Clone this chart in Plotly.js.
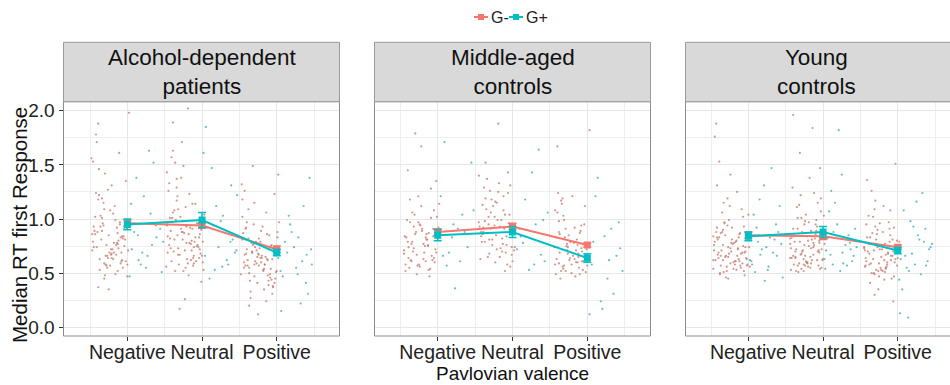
<!DOCTYPE html>
<html>
<head>
<meta charset="utf-8">
<script src="https://cdn.plot.ly/plotly-3.0.1.min.js"></script>
<style>html,body{margin:0;padding:0;background:#fff;}#chart{width:950px;height:385px;}</style>
</head>
<body>
<div id="chart"></div>
<script>
// ---------- DATA ----------
const panels = ["Alcohol-dependent<br>patients", "Middle-aged<br>controls", "Young<br>controls"];
const categories = ["Negative", "Neutral", "Positive"];
const catPos = [1, 2, 3];
const groups = ["G-", "G+"];
const yTickVals = [0, 0.5, 1, 1.5, 2];
const yTickText = ["0.0", "0.5", "1.0", "1.5", "2.0"];

// Group means and standard errors per panel (Negative, Neutral, Positive)
const adGmMean = [0.96, 0.94, 0.72], adGmSE = [0.03, 0.02, 0.03];
const adGpMean = [0.95, 0.99, 0.69], adGpSE = [0.05, 0.07, 0.03];
const maGmMean = [0.88, 0.93, 0.76], maGmSE = [0.03, 0.03, 0.02];
const maGpMean = [0.85, 0.88, 0.64], maGpSE = [0.05, 0.05, 0.04];
const yoGmMean = [0.85, 0.84, 0.74], yoGmSE = [0.03, 0.03, 0.02];
const yoGpMean = [0.84, 0.88, 0.71], yoGpSE = [0.04, 0.05, 0.03];

// Individual (jittered) observations, panel 1: Alcohol-dependent patients
const adNegGmX = [0.55,0.83,0.71,0.96,0.62,0.78,0.91,0.58,0.87,0.67,1.01,0.74,0.60,0.93,0.81,0.69,0.54,0.98,0.76,0.64,0.89,0.72,0.57,0.85,0.95,0.66,0.79,1.03,0.61,0.88,0.70,0.53,0.92,0.77,0.84,0.65,0.99,0.59,0.73,0.86,0.68,0.94,0.56,0.80,1.02,0.63,0.90,0.75,0.58,0.97,0.82,0.69,0.54,0.87,0.72,1.00,0.66,0.79,0.61,0.93,
  0.57,0.74,0.90,0.63,0.82,0.98,0.69,0.53,0.86,0.77,0.61,0.94,0.71,0.84,0.59,1.00,0.66,0.79,0.92,0.55,0.73,0.88,0.64,0.81,0.96,0.68,0.52,0.85,0.75,0.91,0.62,0.78,0.99,0.70,0.87];
const adNegGmY = [0.74,1.12,0.58,0.91,1.46,0.67,0.83,1.78,0.52,0.96,0.71,1.27,0.88,0.62,1.05,0.45,0.79,1.35,0.69,0.93,1.61,0.57,1.02,0.76,0.84,1.19,0.64,0.98,0.37,0.73,1.42,0.86,0.61,1.08,0.49,0.81,0.92,1.71,0.66,0.78,1.15,0.55,0.89,0.72,1.98,0.63,0.95,0.35,1.24,0.81,0.69,0.59,1.53,0.87,0.76,0.47,1.01,0.68,1.88,0.84,
  0.86,0.64,0.97,0.53,0.78,0.61,1.09,0.71,0.92,0.57,1.18,0.82,0.66,0.99,0.74,0.58,0.89,1.31,0.69,0.93,0.55,0.80,1.03,0.63,0.75,0.94,1.56,0.67,0.85,0.59,1.22,0.72,0.96,0.48,0.77];
const adNegGpX = [1.06,1.31,1.18,1.44,1.12,1.27,1.39,1.03,1.22,1.48,1.15,1.35,1.09,1.25,1.42,1.20,1.05,1.33,1.46,1.14,1.29,1.38];
const adNegGpY = [0.72,1.05,0.58,0.91,1.38,0.66,0.83,0.47,1.21,0.79,0.62,1.52,0.88,0.55,0.96,0.69,1.14,0.76,0.51,0.85,1.63,0.94];
const adNeuGmX = [1.57,1.92,1.66,1.79,2.02,1.53,1.85,1.71,1.98,1.61,1.76,1.89,1.55,1.68,1.95,1.82,1.63,1.74,2.00,1.59,1.87,1.70,1.93,1.56,1.80,1.65,1.97,1.73,1.52,1.90,1.78,1.62,1.84,1.99,1.67,1.54,1.88,1.75,1.60,1.94,1.81,1.69,2.03,1.58,1.86,1.72,1.64,1.96,1.77,1.53,1.91,1.68,1.83,1.61,2.01,1.74,1.57,1.89,1.66,1.79,
  1.54,1.72,1.88,1.61,1.79,1.96,1.67,1.83,1.58,1.93,1.75,1.63,1.87,1.70,1.99,1.56,1.81,1.66,1.91,1.77,1.60,1.85,1.73,2.01,1.64,1.89,1.53,1.78,1.95,1.68,1.82,1.59,1.74,1.97,1.86];
const adNeuGmY = [0.82,0.61,1.17,0.94,0.53,1.43,0.77,1.02,0.68,1.89,0.87,0.59,1.26,0.73,0.96,0.48,1.08,0.81,0.66,1.57,0.91,0.17,0.75,1.33,0.63,0.99,0.86,1.71,0.56,0.79,1.11,0.70,0.92,0.42,1.21,0.84,0.64,1.49,0.97,0.76,2.02,0.58,1.04,0.89,0.71,1.38,0.52,0.83,0.26,0.95,1.14,0.67,0.78,1.63,0.60,0.88,1.01,0.74,1.29,0.93,
  0.69,0.91,0.57,1.06,0.78,0.64,0.85,1.23,0.73,0.96,0.52,0.81,1.14,0.67,0.90,0.76,0.59,1.37,0.83,0.71,1.01,0.62,0.88,0.79,1.52,0.66,0.94,0.55,0.74,1.09,0.86,0.61,0.98,0.72,0.80];
const adNeuGpX = [2.04,2.28,2.41,2.13,2.35,2.07,2.22,2.47,2.17,2.31,2.02,2.44,2.25,2.10,2.38,2.19,2.33,2.05,2.46,2.15,2.27,2.39];
const adNeuGpY = [0.66,1.03,0.81,1.47,0.58,0.92,0.74,1.22,0.53,0.87,1.61,0.69,0.98,0.45,0.79,1.12,0.62,1.85,0.71,0.94,0.56,1.31];
const adPosGmX = [2.61,2.88,2.54,2.76,2.97,2.67,2.83,2.58,2.92,2.71,3.02,2.64,2.80,2.55,2.94,2.73,2.86,2.60,2.99,2.69,2.78,2.53,2.91,2.66,2.84,2.75,3.01,2.57,2.89,2.70,2.63,2.96,2.79,2.52,2.87,2.68,2.93,2.74,2.59,3.03,2.82,2.65,2.90,2.56,2.77,2.98,2.62,2.85,2.72,2.95,2.58,2.81,2.67,3.00,2.54,2.88,2.76,2.63,2.92,2.70,
  2.56,2.73,2.89,2.62,2.80,2.95,2.68,2.84,2.59,2.91,2.76,2.65,2.87,2.71,2.99,2.54,2.82,2.67,2.93,2.78,2.61,2.86,2.74,3.01,2.63,2.90,2.57,2.79,2.97,2.69,2.83,2.60,2.75,2.94,2.70];
const adPosGmY = [0.62,0.48,0.81,0.57,1.23,0.69,0.35,0.91,0.54,0.74,1.41,0.43,0.66,0.87,0.31,0.59,1.06,0.72,0.51,0.95,0.64,1.32,0.46,0.78,0.58,0.12,0.83,0.67,0.39,1.15,0.55,0.71,0.89,0.49,0.63,1.49,0.76,0.41,0.68,0.97,0.53,0.27,0.85,0.60,0.73,0.45,1.09,0.65,0.79,0.37,0.57,0.93,0.70,0.52,1.18,0.62,0.82,0.20,0.75,0.58,
  0.55,0.71,0.43,0.82,0.64,0.38,0.76,0.58,0.92,0.49,0.67,0.33,0.86,0.61,0.73,1.02,0.52,0.69,0.44,0.79,0.57,0.24,0.65,0.88,0.50,0.72,1.26,0.60,0.41,0.77,0.54,0.97,0.68,0.63,0.47];
const adPosGpX = [3.05,3.29,3.42,3.14,3.36,3.08,3.23,3.47,3.18,3.32,3.02,3.44,3.26,3.11,3.39,3.20,3.34,3.06,3.46,3.16,3.28,3.40];
const adPosGpY = [0.52,0.83,0.31,0.69,1.12,0.47,0.74,0.58,0.95,0.22,0.64,1.38,0.55,0.79,0.41,0.88,0.61,0.15,0.72,1.03,0.49,0.67];

// panel 2: Middle-aged controls
const maNegGmX = [0.58,0.84,0.69,0.97,0.62,0.77,0.91,0.55,0.88,0.72,1.02,0.65,0.81,0.94,0.60,0.75,0.86,0.67,0.99,0.57,0.79,0.92,0.70,0.83,0.63,0.96,0.74,0.56,0.89,0.68,1.01,0.78,0.61,0.85,0.73,0.95,0.66,0.82,0.59,0.90,0.71,0.98,0.64,0.87,0.76,
  0.61,0.79,0.93,0.66,0.85,0.57,0.74,0.98,0.70,0.88,0.63,0.81,0.95,0.68,0.55,0.84,0.76,0.91,0.60,0.72,0.99,0.65,0.87,0.78,0.94];
const maNegGmY = [0.83,0.61,1.04,0.72,0.55,0.94,1.28,0.68,0.87,0.49,1.14,0.77,0.63,0.91,1.45,0.58,0.81,0.70,1.02,0.52,0.89,0.66,1.79,0.75,0.97,0.60,1.21,0.84,0.47,0.73,0.92,1.67,0.64,0.86,0.57,1.08,0.79,0.69,0.99,0.54,0.88,1.35,0.62,0.76,0.95,
  0.74,0.91,0.62,1.06,0.81,0.58,0.97,0.69,0.86,0.53,1.18,0.77,0.64,0.93,0.71,0.83,0.56,1.01,0.79,0.67,0.89,0.61,0.75,1.12,0.84];
const maNegGpX = [1.07,1.33,1.19,1.45,1.12,1.27,1.40,1.04,1.23,1.36,1.15,1.48,1.30,1.09,1.21];
const maNegGpY = [0.66,1.04,0.83,1.52,0.57,0.91,0.74,1.21,0.36,0.88,0.69,1.08,0.61,1.71,0.95];
const maNeuGmX = [1.61,1.88,1.73,1.96,1.57,1.82,1.67,2.02,1.79,1.63,1.93,1.70,1.86,1.55,1.99,1.76,1.65,1.90,1.81,1.59,1.95,1.72,1.84,1.68,2.00,1.62,1.78,1.91,1.74,1.56,1.87,1.66,1.97,1.80,1.69,1.94,1.58,1.83,1.71,2.03,1.64,1.89,1.77,1.60,1.92,
  1.58,1.76,1.92,1.64,1.83,1.69,1.97,1.61,1.79,1.88,1.55,1.73,1.94,1.67,1.85,1.60,1.81,1.99,1.71,1.90,1.63,1.77,1.86,1.68,2.01];
const maNeuGmY = [0.92,1.21,0.76,1.04,0.63,1.33,0.87,0.71,1.15,0.98,0.58,1.26,0.82,1.40,0.67,0.94,1.09,0.52,1.88,0.79,0.96,1.18,0.73,1.02,0.61,1.29,0.85,0.69,1.12,0.93,0.77,1.37,0.56,0.99,0.81,1.24,0.88,0.65,1.06,0.74,1.52,0.91,0.60,1.13,0.84,
  0.84,1.02,0.76,1.19,0.93,0.68,1.31,0.88,0.72,1.08,0.97,0.81,1.43,0.65,0.99,0.86,1.25,0.74,0.91,1.04,0.79,1.16,0.70,0.95,0.89];
const maNeuGpX = [2.06,2.31,2.17,2.43,2.11,2.26,2.38,2.03,2.22,2.47,2.14,2.35,2.09,2.29,2.41];
const maNeuGpY = [0.72,0.95,1.18,0.61,0.84,1.43,0.67,0.89,0.53,1.06,0.78,1.64,0.91,0.58,0.99];
const maPosGmX = [2.59,2.86,2.71,2.97,2.63,2.79,2.92,2.56,2.84,2.68,3.01,2.75,2.61,2.89,2.73,2.95,2.65,2.82,2.58,2.91,2.77,3.03,2.69,2.87,2.62,2.94,2.74,2.57,2.85,2.70,2.99,2.80,2.64,2.90,2.76,2.60,2.93,2.67,2.83,2.72,2.98,2.66,2.88,2.78,2.62,
  2.57,2.74,2.90,2.63,2.81,2.96,2.68,2.85,2.60,2.93,2.77,2.65,2.88,2.71,3.00,2.58,2.83,2.67,2.92,2.79,2.62,2.87,2.73,2.98,2.69];
const maPosGmY = [0.63,0.81,0.52,1.12,0.69,0.58,0.94,0.74,0.47,1.03,0.66,0.85,1.24,0.55,0.71,0.61,1.17,0.78,0.49,0.89,0.64,1.82,0.57,0.76,0.98,0.53,0.68,1.08,0.60,0.83,0.72,1.21,0.45,0.87,0.62,1.67,0.70,0.56,0.92,0.75,0.51,1.14,0.65,0.79,0.59,
  0.58,0.74,0.49,0.86,0.66,0.95,0.54,0.71,1.06,0.61,0.79,0.52,0.68,0.91,0.57,0.83,0.63,1.19,0.73,0.50,0.88,0.60,0.77,0.67,0.99];
const maPosGpX = [3.06,3.32,3.18,3.44,3.11,3.27,3.39,3.03,3.23,3.47,3.14,3.35,3.08,3.29,3.42,3.20];
const maPosGpY = [0.58,0.91,0.24,0.73,1.21,0.45,0.66,0.12,0.84,0.52,1.38,0.31,0.79,0.62,0.97,0.17];

// panel 3: Young controls
const yoNegGmX = [0.56,0.81,0.67,0.94,0.60,0.75,0.89,0.53,0.86,0.70,1.00,0.63,0.78,0.92,0.58,0.73,0.84,0.65,0.97,0.55,0.77,0.90,0.68,0.82,0.61,0.95,0.72,0.54,0.87,0.66,0.99,0.76,0.59,0.83,0.71,0.93,0.64,0.80,0.57,0.88,0.69,0.96,0.62,0.85,0.74,1.02,0.58,0.79,0.66,0.91,0.53,0.84,0.70,0.98,0.61,0.76,0.88,0.63,0.73,0.95,
  0.54,0.71,0.87,0.60,0.78,0.94,0.66,0.83,0.57,0.90,0.74,0.63,0.86,0.69,0.98,0.55,0.80,0.65,0.92,0.76,0.59,0.85,0.72,1.01,0.62,0.89,0.53,0.77,0.96,0.67,0.82,0.58,0.73,0.93,0.68];
const yoNegGmY = [0.62,0.78,0.51,0.93,0.69,1.12,0.57,0.84,0.72,0.46,1.04,0.66,0.81,0.59,1.31,0.74,0.53,0.88,0.64,1.76,0.70,0.55,0.97,0.61,0.83,0.48,1.19,0.76,0.63,0.90,0.58,1.41,0.67,0.79,0.52,1.02,0.71,0.60,1.88,0.86,0.65,0.74,0.49,1.25,0.68,0.56,0.92,0.77,0.62,1.09,0.54,0.80,0.66,0.57,1.53,0.73,0.61,0.87,0.45,0.69,
  0.71,0.56,0.83,0.64,0.92,0.52,0.76,0.61,0.88,0.68,0.99,0.57,0.73,0.85,0.63,0.79,0.54,1.06,0.69,0.59,0.81,0.66,0.94,0.74,0.50,0.87,0.62,0.78,0.70,1.15,0.58,0.83,0.65,0.75,0.96];
const yoNegGpX = [1.05,1.29,1.16,1.42,1.09,1.24,1.37,1.02,1.21,1.46,1.13,1.33,1.07,1.27,1.40,1.18,1.31,1.04,1.44,1.11,1.26,1.38,1.15,1.35,1.22];
const yoNegGpY = [0.58,0.83,0.67,1.12,0.51,0.74,0.95,0.62,1.31,0.46,0.79,0.69,1.04,0.56,0.88,0.72,1.47,0.61,0.77,0.92,0.53,0.66,1.18,0.81,0.43];
const yoNeuGmX = [1.60,1.85,1.71,1.97,1.64,1.79,1.92,1.56,1.88,1.74,2.02,1.67,1.82,1.95,1.61,1.76,1.87,1.69,1.99,1.58,1.80,1.93,1.72,1.84,1.63,1.96,1.75,1.57,1.90,1.70,2.01,1.78,1.62,1.86,1.73,1.94,1.66,1.83,1.59,1.89,1.71,1.98,1.65,1.81,1.77,2.03,1.60,1.84,1.68,1.91,1.56,1.87,1.74,1.97,1.63,1.79,1.92,1.66,1.76,1.95,
  1.57,1.74,1.90,1.63,1.81,1.96,1.69,1.85,1.60,1.93,1.77,1.66,1.88,1.72,2.00,1.56,1.83,1.68,1.94,1.79,1.62,1.87,1.75,2.02,1.64,1.91,1.58,1.80,1.98,1.70,1.84,1.61,1.76,1.95,1.71];
const yoNeuGmY = [0.66,0.81,0.54,1.07,0.72,0.59,0.93,0.77,1.24,0.63,0.86,0.51,1.38,0.69,0.58,0.98,0.74,1.61,0.62,0.83,0.56,1.15,0.70,0.89,0.64,1.47,0.76,0.53,0.95,0.67,1.03,0.60,0.79,1.84,0.71,0.57,0.91,0.65,1.29,0.82,0.68,0.55,1.11,0.75,0.61,0.87,1.96,0.73,0.59,0.99,0.64,0.78,0.52,1.19,0.70,0.84,0.62,1.01,0.57,0.80,
  0.73,0.58,0.86,0.65,0.97,0.54,0.79,0.62,0.91,0.70,1.04,0.57,0.76,0.88,0.63,0.82,0.55,1.13,0.71,0.60,0.84,0.67,0.95,0.77,0.52,0.89,0.64,0.80,0.72,1.22,0.59,0.85,0.66,0.78,1.01];
const yoNeuGpX = [2.04,2.27,2.14,2.41,2.08,2.23,2.36,2.02,2.19,2.45,2.11,2.32,2.06,2.26,2.39,2.16,2.30,2.03,2.43,2.10,2.25,2.37,2.13,2.34,2.21];
const yoNeuGpY = [0.71,0.59,0.88,0.66,1.07,0.52,0.78,0.63,0.95,0.74,1.26,0.57,0.82,0.69,0.61,1.15,0.76,0.54,0.91,0.67,1.41,0.72,0.58,0.85,1.82];
const yoPosGmX = [2.58,2.83,2.69,2.95,2.62,2.77,2.90,2.55,2.86,2.72,3.00,2.65,2.80,2.93,2.60,2.75,2.88,2.67,2.97,2.57,2.79,2.91,2.70,2.84,2.63,2.96,2.74,2.56,2.89,2.68,3.02,2.78,2.61,2.85,2.73,2.94,2.66,2.82,2.59,2.87,2.71,2.99,2.64,2.81,2.76,2.92,2.58,2.84,2.69,2.98,
  2.57,2.74,2.89,2.62,2.80,2.95,2.68,2.84,2.59,2.91,2.76,2.65,2.87,2.71,2.99,2.55,2.82,2.67,2.93,2.78,2.61,2.86,2.73,3.01,2.63,2.90,2.56,2.79,2.97,2.69,2.83,2.60,2.75,2.94,2.70];
const yoPosGmY = [0.61,0.77,0.49,0.92,0.68,0.55,1.08,0.73,0.58,0.86,0.64,1.26,0.52,0.81,0.70,0.47,0.97,0.63,1.51,0.57,0.75,0.66,1.17,0.54,0.83,0.60,0.35,0.71,0.91,0.50,0.79,0.65,1.03,0.56,0.74,0.24,0.87,0.62,1.36,0.69,0.53,0.80,0.59,1.12,0.72,0.45,0.95,0.67,0.30,0.76,
  0.64,0.52,0.79,0.58,0.88,0.47,0.71,0.55,0.83,0.62,0.96,0.50,0.68,0.81,0.57,0.74,0.44,1.02,0.66,0.53,0.77,0.60,0.90,0.69,0.41,0.85,0.56,0.72,0.63,1.09,0.51,0.78,0.59,0.70,0.93];
const yoPosGpX = [3.04,3.29,3.15,3.42,3.08,3.23,3.37,3.02,3.19,3.46,3.12,3.33,3.06,3.27,3.40,3.17,3.31,3.03,3.44,3.10,3.25,3.38,3.14,3.35,3.21];
const yoPosGpY = [0.63,0.81,0.52,0.72,1.08,0.58,0.91,0.44,0.68,0.77,0.55,1.24,0.35,0.85,0.61,0.98,0.49,0.13,0.74,0.66,1.16,0.57,0.09,0.79,0.93];

// ---------- BUILD ----------
const colGm = "#F8766D", colGp = "#00BFC4";
const dotGm = "rgba(192,116,104,0.75)", dotGp = "rgba(46,170,174,0.75)";
const FONT = "Liberation Sans, Arial, sans-serif";

const panelData = [
  {gmX:[adNegGmX,adNeuGmX,adPosGmX], gmY:[adNegGmY,adNeuGmY,adPosGmY], gpX:[adNegGpX,adNeuGpX,adPosGpX], gpY:[adNegGpY,adNeuGpY,adPosGpY], gmM:adGmMean, gmS:adGmSE, gpM:adGpMean, gpS:adGpSE},
  {gmX:[maNegGmX,maNeuGmX,maPosGmX], gmY:[maNegGmY,maNeuGmY,maPosGmY], gpX:[maNegGpX,maNeuGpX,maPosGpX], gpY:[maNegGpY,maNeuGpY,maPosGpY], gmM:maGmMean, gmS:maGmSE, gpM:maGpMean, gpS:maGpSE},
  {gmX:[yoNegGmX,yoNeuGmX,yoPosGmX], gmY:[yoNegGmY,yoNeuGmY,yoPosGmY], gpX:[yoNegGpX,yoNeuGpX,yoPosGpX], gpY:[yoNegGpY,yoNeuGpY,yoPosGpY], gmM:yoGmMean, gmS:yoGmSE, gpM:yoGpMean, gpS:yoGpSE}
];

const W = 950, H = 385;
const pxX = [[63.5, 339.5], [374.5, 650.5], [685.5, 950]];
const plotTop = 101.7, plotBot = 336, stripTop = 42.3;
const yDom = [(H - plotBot) / H, (H - plotTop) / H];
const xRanges = [[0.145, 3.84], [0.155, 3.845], [0.158, 3.70]];

const traces = [];
const flat = a => [].concat(...a);
panelData.forEach((p, i) => {
  const xa = i === 0 ? "x" : "x" + (i + 1);
  const ya = i === 0 ? "y" : "y" + (i + 1);
  traces.push({type:"scatter", mode:"markers", x:flat(p.gmX), y:flat(p.gmY), xaxis:xa, yaxis:ya,
    marker:{color:dotGm, size:2.2}, showlegend:false, hoverinfo:"skip"});
  traces.push({type:"scatter", mode:"markers", x:flat(p.gpX), y:flat(p.gpY), xaxis:xa, yaxis:ya,
    marker:{color:dotGp, size:2.2}, showlegend:false, hoverinfo:"skip"});
  traces.push({type:"scatter", mode:"lines+markers", name:groups[0], x:catPos, y:p.gmM,
    xaxis:xa, yaxis:ya, line:{color:colGm, width:2}, marker:{color:colGm, symbol:"square", size:7},
    error_y:{type:"data", array:p.gmS, visible:true, color:colGm, thickness:1.5, width:4},
    showlegend:false});
  traces.push({type:"scatter", mode:"lines+markers", name:groups[1], x:catPos, y:p.gpM,
    xaxis:xa, yaxis:ya, line:{color:colGp, width:2}, marker:{color:colGp, symbol:"square", size:7},
    error_y:{type:"data", array:p.gpS, visible:true, color:colGp, thickness:1.5, width:4},
    showlegend:false});
});

const layout = {
  width: W, height: H,
  margin: {l:0, r:0, t:0, b:0},
  paper_bgcolor: "#fff", plot_bgcolor: "#fff",
  font: {family: FONT, color: "#333"},
  showlegend: false,
  shapes: [], annotations: []
};

pxX.forEach((px, i) => {
  const sfx = i === 0 ? "" : String(i + 1);
  layout["xaxis" + sfx] = {
    domain: [px[0] / W, px[1] / W], anchor: "y" + sfx, range: xRanges[i],
    tickmode: "array", tickvals: catPos, ticktext: categories, tickangle: 0,
    ticks: "outside", ticklen: 4, tickcolor: "#333", tickwidth: 1, ticklabelstandoff: -5,
    tickfont: {size: 19.5, family: FONT, color: "#222"},
    showgrid: true, gridcolor: "#e6e6e6", gridwidth: 1,
    minor: {tickmode: "array", tickvals: [0.5, 1.5, 2.5, 3.5], showgrid: true, gridcolor: "#eeeeee", gridwidth: 1, ticks: ""},
    zeroline: false, showline: false, automargin: false, fixedrange: true
  };
  layout["yaxis" + sfx] = {
    domain: yDom, anchor: "x" + sfx, range: [-0.08, 2.083],
    tickmode: "array", tickvals: yTickVals, ticktext: yTickText,
    ticks: i === 0 ? "outside" : "", ticklen: 4, tickcolor: "#333",
    showticklabels: i === 0,
    tickfont: {size: 19, family: FONT, color: "#222"},
    showgrid: true, gridcolor: "#e6e6e6", gridwidth: 1,
    minor: {tickmode: "array", tickvals: [0.25, 0.75, 1.25, 1.75], showgrid: true, gridcolor: "#eeeeee", gridwidth: 1, ticks: ""},
    zeroline: false, showline: false, automargin: false, fixedrange: true
  };
  const x0 = px[0] / W, x1 = i === 2 ? 1.02 : px[1] / W;
  layout.shapes.push({type:"rect", xref:"paper", yref:"paper", x0:x0, x1:x1, y0:yDom[0], y1:yDom[1],
    line:{color:"#8c8c8c", width:1}, fillcolor:"rgba(0,0,0,0)", layer:"above"});
  layout.shapes.push({type:"rect", xref:"paper", yref:"paper", x0:x0, x1:x1, y0:yDom[1], y1:(H - stripTop) / H,
    line:{color:"#9a9a9a", width:1}, fillcolor:"#d9d9d9", layer:"above"});
  layout.annotations.push({xref:"paper", yref:"paper", x:(px[0] + (i === 2 ? 947 : px[1])) / 2 / W, y:(H - (stripTop + plotTop) / 2) / H,
    text: panels[i], showarrow:false, xanchor:"center", yanchor:"middle",
    font:{size:22.5, family:FONT, color:"#111"}});
});

// compact legend (key glyphs + labels) at the top
const legY = (H - 17) / H;
[[474, 488, colGm, groups[0]], [509, 523, colGp, groups[1]]].forEach(([a, b, c, t]) => {
  layout.shapes.push({type:"line", xref:"paper", yref:"paper", x0:a / W, x1:b / W, y0:legY, y1:legY, line:{color:c, width:2}});
  const m = (a + b) / 2;
  layout.shapes.push({type:"rect", xref:"paper", yref:"paper", x0:(m - 3) / W, x1:(m + 3) / W, y0:legY - 3 / H, y1:legY + 3 / H,
    line:{width:0}, fillcolor:c});
  layout.annotations.push({xref:"paper", yref:"paper", x:(b + 0.5) / W, y:legY, text:t, showarrow:false,
    xanchor:"left", yanchor:"middle", font:{size:16, family:FONT, color:"#222"}});
});

// axis titles
layout.annotations.push({xref:"paper", yref:"paper", x:(pxX[1][0] + pxX[1][1]) / 2 / W, y:(H - 373.8) / H,
  text:"Pavlovian valence", showarrow:false, xanchor:"center", yanchor:"middle", borderpad:0,
  font:{size:19, family:FONT, color:"#111"}});
layout.annotations.push({xref:"paper", yref:"paper", x:19 / W, y:(H - 225) / H,
  text:"Median RT first Response", showarrow:false, xanchor:"center", yanchor:"middle", textangle:-90,
  font:{size:20.5, family:FONT, color:"#111"}});

Plotly.newPlot("chart", traces, layout, {staticPlot:true, displayModeBar:false});
</script>
</body>
</html>
